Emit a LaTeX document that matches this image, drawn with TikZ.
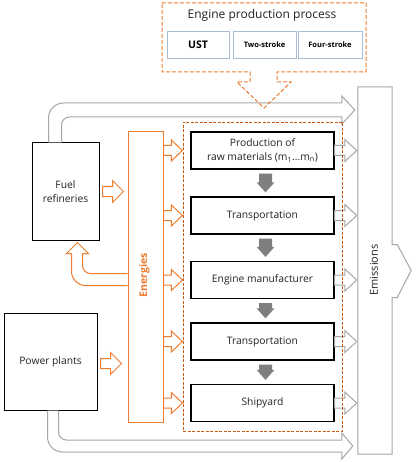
\documentclass[tikz,border=0pt]{standalone}
\usepackage{fontspec}
\setmainfont{Open Sans}
\usetikzlibrary{calc}
\definecolor{eorange}{HTML}{ED7D31}
\definecolor{dorange}{HTML}{C55A11}
\definecolor{lgray}{HTML}{A6A6A6}
\definecolor{dgray}{HTML}{7F7F7F}
\definecolor{bluegray}{HTML}{A9BCD0}
\definecolor{txt}{HTML}{222222}
\tikzset{
  box/.style={draw=black, line width=1pt, fill=white, text=txt, align=center, inner sep=0pt,
              font=\fontsize{10.3}{13.5}\selectfont},
  procbox/.style={box, line width=1.3pt, minimum width=143pt, minimum height=37pt},
  subbox/.style={draw=bluegray, line width=0.8pt, fill=white, text=black, inner sep=0pt,
                 minimum height=27pt, font=\bfseries\fontsize{7.5}{9}\selectfont},
  enbox/.style={draw=eorange, line width=1pt, fill=white, inner sep=0pt},
  oarrow/.style={draw=eorange, line width=1pt, fill=white, line join=miter},
  garrow/.style={draw=lgray, line width=1pt, fill=white, line join=miter},
  darrow/.style={fill=dgray, draw=none},
  engframe/.style={draw=eorange, line width=1pt, dash pattern=on 4pt off 2pt},
  procframe/.style={draw=dorange, line width=0.9pt, dash pattern=on 3pt off 1.5pt, inner sep=0pt},
  label/.style={inner sep=0pt, text=txt}
}
% right-pointing block arrow: style, from, tip, shaft half, head half, head length
\newcommand\blockR[6]{%
  \draw[#1] let \p1=#2, \p2=#3 in
    (\x1,{\y2+#4}) -- ({\x2-#6},{\y2+#4}) -- ({\x2-#6},{\y2+#5}) -- (\x2,\y2)
    -- ({\x2-#6},{\y2-#5}) -- ({\x2-#6},{\y2-#4}) -- (\x1,{\y2-#4}) -- cycle;}
% down-pointing block arrow: style, from, tip, shaft half, head half, head length
\newcommand\blockD[6]{%
  \draw[#1] let \p1=#2, \p2=#3 in
    ({\x2-#4},\y1) -- ({\x2-#4},{\y2+#6}) -- ({\x2-#5},{\y2+#6}) -- (\x2,\y2)
    -- ({\x2+#5},{\y2+#6}) -- ({\x2+#4},{\y2+#6}) -- ({\x2+#4},\y1) -- cycle;}
\begin{document}
\begin{tikzpicture}[x=1pt,y=-1pt]
\useasboundingbox[fill=white] (0,0) rectangle (415,462);

% ---------- main nodes
\node[box, minimum width=67pt, minimum height=97pt] (ref) at (65.5,191.5) {Fuel\\refineries};
\node[box, minimum width=93pt, minimum height=97pt] (pow) at (50.5,361.5) {Power plants};
\node[enbox, minimum width=35pt, minimum height=290pt] (en) at (145.5,277) {};
\node[label, rotate=90, text=eorange, font=\bfseries\fontsize{10.5}{12}\selectfont] (entext) at (144.5,275) {Energies};

\node[procbox] (p1) at (262.5,150.5) {Production of\\raw materials (m\textsubscript{1}...m\textsubscript{n})};
\node[procbox] (p2) at (262.5,215.5) {Transportation};
\node[procbox] (p3) at (262.5,280) {Engine manufacturer};
\node[procbox] (p4) at (262.5,341.5) {Transportation};
\node[procbox] (p5) at (262.5,403) {Shipyard};

\node[inner sep=0pt, minimum width=34pt, minimum height=367pt] (em) at (375,270.5) {};

\coordinate (tipT0) at ($(em.west)+(-3,0)$);
\coordinate (tipT) at (tipT0 |- 0,110);
\coordinate (tipB0) at ($(em.west)+(-5,0)$);
\coordinate (tipB) at (tipB0 |- 0,446);

% ---------- gray hollow arrows (refineries / power plants to emissions)
\draw[garrow] let \p1=(ref.north west), \p2=(tipT) in
  ({\x1+17pt},\y1) -- ({\x1+17pt},{\y2-8pt})
  .. controls ({\x1+17pt},{\y2+0.25pt}) and ({\x1+23.75pt},{\y2+7pt}) .. ({\x1+32pt},{\y2+7pt})
  -- ({\x2-13pt},{\y2+7pt}) -- ({\x2-13pt},{\y2+14pt}) -- (\x2,\y2)
  -- ({\x2-13pt},{\y2-14pt}) -- ({\x2-13pt},{\y2-7pt})
  -- ({\x1+38pt},{\y2-7pt})
  .. controls ({\x1+33.6pt},{\y2-7pt}) and ({\x1+30pt},{\y2-10.6pt}) .. ({\x1+30pt},{\y2-15pt})
  -- ({\x1+30pt},\y1);
\draw[garrow] let \p1=(pow.south west), \p2=(tipB) in
  ({\x1+44pt},\y1) -- ({\x1+44pt},{\y2+9pt})
  .. controls ({\x1+44pt},{\y2+0.75pt}) and ({\x1+50.75pt},{\y2-6pt}) .. ({\x1+59pt},{\y2-6pt})
  -- ({\x2-11pt},{\y2-6pt}) -- ({\x2-11pt},{\y2-13pt}) -- (\x2,\y2)
  -- ({\x2-11pt},{\y2+13pt}) -- ({\x2-11pt},{\y2+6pt})
  -- ({\x1+63pt},{\y2+6pt})
  .. controls ({\x1+58.6pt},{\y2+6pt}) and ({\x1+55pt},{\y2+9.6pt}) .. ({\x1+55pt},{\y2+14pt})
  -- ({\x1+55pt},\y1);

% ---------- engine production process frame with its down arrow
\draw[engframe] (162,3) -- (366,3) -- (366,72) -- (277,72) -- (277,82) -- (291,82)
  -- (264,108) -- (237,82) -- (250,82) -- (250,72) -- (162,72) -- cycle;
\node[label, font=\fontsize{12}{14}\selectfont] (engtitle) at (262,15) {Engine production process};
\node[subbox, minimum width=62pt, font=\bfseries\fontsize{10.5}{12}\selectfont] (ust) at (198,45) {UST};
\node[subbox, minimum width=63pt] (two) at (264.5,45) {Two-stroke};
\node[subbox, minimum width=64pt] (four) at (330,45) {Four-stroke};

% ---------- emissions box with arrow head
\draw[garrow] let \p1=(em.north west), \p2=(em.south east), \p3=(em.east) in
  (\x1,\y1) -- (\x2,\y1) -- (\x2,{\y3+26pt}) -- ({\x2+5pt},{\y3+26pt}) -- ({\x2+19pt},\y3)
  -- ({\x2+5pt},{\y3-27pt}) -- (\x2,{\y3-27pt}) -- (\x2,\y2) -- (\x1,\y2) -- cycle;
\node[label, rotate=90, font=\fontsize{11}{13}\selectfont] (emtext) at (374,270) {Emissions};

% ---------- orange arrows into energies
\blockR{oarrow}{([xshift=3pt]ref.east)}{([xshift=-4pt]en.west |- ref.east)}{5pt}{11pt}{11pt}
\blockR{oarrow}{([xshift=3pt]pow.east)}{([xshift=-6pt,yshift=-2pt]en.west |- pow.east)}{5pt}{11pt}{11pt}

% ---------- energies back to refineries
\draw[oarrow] let \p1=(ref.south west), \p2=(en.west) in
  (\x2,{\y1-33pt}) -- ({\x1+59pt},{\y1-33pt})
  .. controls ({\x1+54.6pt},{\y1-33pt}) and ({\x1+51pt},{\y1-29.4pt}) .. ({\x1+51pt},{\y1-25pt})
  -- ({\x1+51pt},{\y1-13pt}) -- ({\x1+57pt},{\y1-13pt}) -- ({\x1+46pt},{\y1-2pt})
  -- ({\x1+35pt},{\y1-13pt}) -- ({\x1+40pt},{\y1-13pt}) -- ({\x1+40pt},{\y1-31pt})
  .. controls ({\x1+40pt},{\y1-38.7pt}) and ({\x1+46.3pt},{\y1-45pt}) .. ({\x1+54pt},{\y1-45pt})
  -- (\x2,{\y1-45pt});

% ---------- energies to process stages
\foreach \stg in {p1,p2,p3,p4,p5}{
  \blockR{oarrow}{(en.east |- \stg.west)}{([xshift=-8pt]\stg.west)}{5pt}{10.5pt}{11pt}
}
% ---------- process stages to emissions
\foreach \stg in {p1,p2,p3,p4,p5}{
  \blockR{garrow}{(\stg.east)}{([xshift=-1pt]em.west |- \stg.east)}{5pt}{11pt}{12pt}
}
% ---------- dark down arrows between stages
\blockD{darrow}{([xshift=3pt,yshift=-4pt]p1.south)}{([xshift=3pt,yshift=4pt]p2.north)}{6.5pt}{9pt}{10pt}
\blockD{darrow}{([xshift=3pt,yshift=-4pt]p2.south)}{([xshift=3pt,yshift=4pt]p3.north)}{6.5pt}{9pt}{10pt}
\blockD{darrow}{([xshift=3pt,yshift=-4pt]p3.south)}{([xshift=3pt,yshift=4pt]p4.north)}{6.5pt}{9pt}{10pt}
\blockD{darrow}{([xshift=3pt,yshift=-4pt]p4.south)}{([xshift=3pt,yshift=4pt]p5.north)}{6.5pt}{9pt}{10pt}

% ---------- process frame
\node[procframe, minimum width=159pt, minimum height=309pt] (stage) at (262.5,276.5) {};
\end{tikzpicture}
\end{document}
